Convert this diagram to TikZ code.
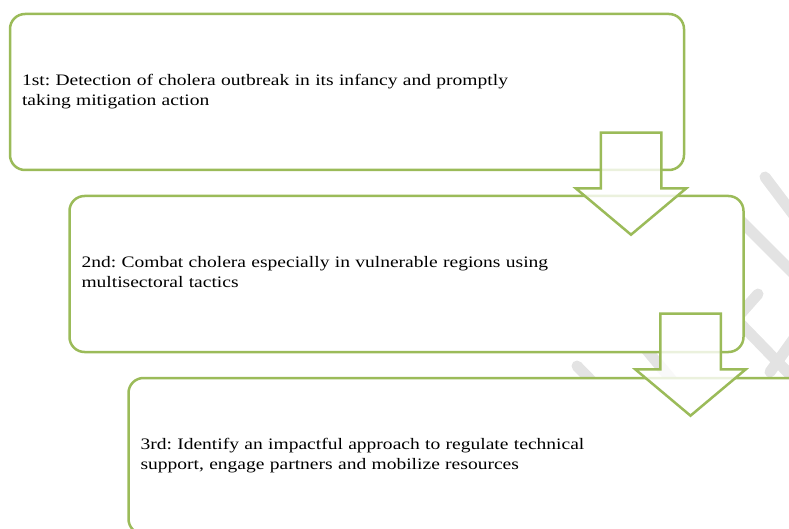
\documentclass[tikz,border=0pt]{standalone}
\usepackage{fontspec}
\setmainfont{Liberation Serif}[FakeStretch=1.22]
\usetikzlibrary{shapes.arrows}
\definecolor{olive}{RGB}{155,187,89}
\tikzset{
  stage/.style={draw=olive, line width=2.5pt, fill=white, rounded corners=15pt,
    minimum width=674pt, minimum height=156pt, text width=650pt, inner xsep=12pt,
    align=left, font=\fontsize{16}{20}\selectfont\frenchspacing},
  flow/.style={single arrow, draw=olive, line width=2.5pt, fill=white, fill opacity=0.8,
    rotate=-90, inner xsep=0pt, inner ysep=29pt, minimum height=102pt, minimum width=108pt,
    single arrow head extend=25pt, single arrow tip angle=100},
  wmark/.style={gray!22, line width=11pt, line cap=round}
}
\begin{document}
\begin{tikzpicture}[x=1pt, y=-1pt]
  \useasboundingbox (0,0) rectangle (789,529);
  \clip (0,0) rectangle (789,529);
  % faint strokes behind the boxes
  \draw[wmark] (765,177) -- (805,230);
  \draw[wmark] (735,215) -- (805,285);
  \draw[wmark] (758,294) -- (735,320);
  \draw[wmark] (735,318) -- (800,385);
  \draw[wmark] (800,330) -- (770,372);
  \draw[wmark] (577,366) -- (620,410);
  \draw[wmark] (630,330) -- (680,390);
  % the three stages
  \node[stage] (s1) at (347,92) {1st: Detection of cholera outbreak in its infancy and promptly\\taking mitigation action\vphantom{p}};
  \node[stage] (s2) at (406.5,274) {2nd: Combat cholera especially in vulnerable regions using\\multisectoral tactics\vphantom{p}};
  \node[stage] (s3) at (465.5,456) {3rd: Identify an impactful approach to regulate technical\\support, engage partners and mobilize resources};
  % arrows between them
  \node[flow] (a1) at (631,171) {};
  \node[flow] (a2) at (690.5,352) {};
\end{tikzpicture}
\end{document}
